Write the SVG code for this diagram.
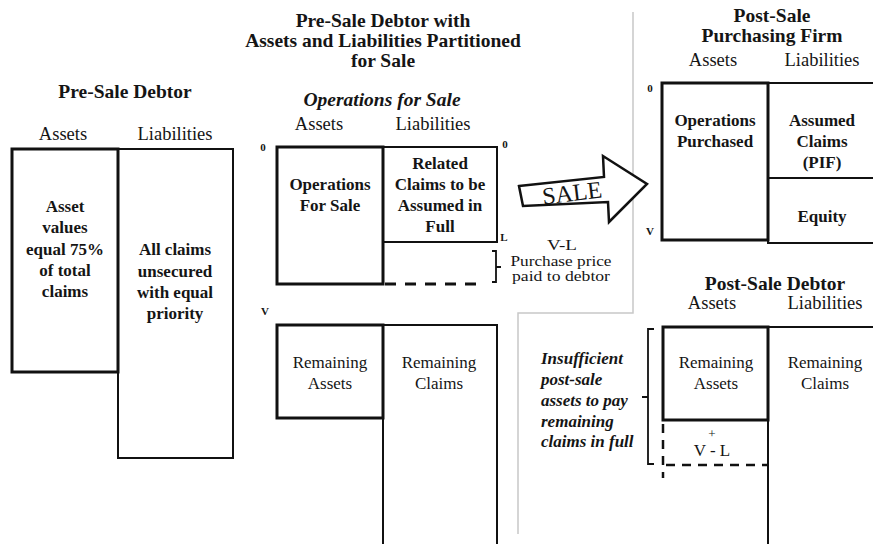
<svg xmlns="http://www.w3.org/2000/svg" width="873" height="544" viewBox="0 0 873 544">
<style>
text{font-family:"Liberation Serif","Times New Roman",serif;fill:#151515}
.t{font-weight:bold;font-size:19.5px;text-anchor:middle}
.h{font-size:18.5px;text-anchor:middle}
.b{font-weight:bold;font-size:17px;text-anchor:middle}
.r{font-size:17px;text-anchor:middle}
.p{font-size:14px;text-anchor:middle}
.bi{font-weight:bold;font-style:italic;font-size:17px}
.s{font-size:11px;font-weight:bold;text-anchor:middle}
.thick{fill:none;stroke:#111;stroke-width:3}
.thin{fill:none;stroke:#111;stroke-width:2}
.dash{fill:none;stroke:#111;stroke-width:3;stroke-dasharray:11 9}
.dash2{fill:none;stroke:#111;stroke-width:2.5;stroke-dasharray:9 7}
.grey{fill:none;stroke:#c8c8c8;stroke-width:1.5}
.line{fill:none;stroke:#111;stroke-width:1.8}
</style>
<rect width="873" height="544" fill="#fff"/>

<g id="dividers">
<polyline class="grey" points="633,12 633,313 518,313 518,534"/>
</g>

<g id="pre-sale-debtor">
<text class="t" x="125" y="98">Pre-Sale Debtor</text>
<text class="h" x="63" y="140">Assets</text>
<text class="h" x="175" y="140">Liabilities</text>
<rect class="thin" x="118" y="149" width="115" height="309"/>
<rect class="thick" x="12" y="149" width="106" height="223"/>
<text class="b" x="65" y="212">Asset</text>
<text class="b" x="65" y="233">values</text>
<text class="b" x="65" y="255">equal 75%</text>
<text class="b" x="65" y="276">of total</text>
<text class="b" x="65" y="297">claims</text>
<text class="b" x="175" y="255">All claims</text>
<text class="b" x="175" y="277">unsecured</text>
<text class="b" x="175" y="298">with equal</text>
<text class="b" x="175" y="319">priority</text>
</g>

<g id="partitioned-title">
<text class="t" x="383" y="27">Pre-Sale Debtor with</text>
<text class="t" x="383" y="47">Assets and Liabilities Partitioned</text>
<text class="t" x="383" y="67">for Sale</text>
</g>

<g id="operations-for-sale">
<text class="t" x="382" y="106" font-style="italic">Operations for Sale</text>
<text class="h" x="319" y="130">Assets</text>
<text class="h" x="433" y="130">Liabilities</text>
<text class="s" x="263" y="151">0</text>
<text class="s" x="505" y="148">0</text>
<text class="s" x="504" y="241">L</text>
<rect class="thin" x="383" y="147" width="114" height="95"/>
<rect class="thick" x="277" y="147" width="106" height="137"/>
<line class="dash" x1="385" y1="284" x2="478" y2="284"/>
<text class="b" x="330" y="190">Operations</text>
<text class="b" x="330" y="211">For Sale</text>
<text class="b" x="440" y="169">Related</text>
<text class="b" x="440" y="190">Claims to be</text>
<text class="b" x="440" y="211">Assumed in</text>
<text class="b" x="440" y="232">Full</text>
</g>

<g id="purchase-price">
<path class="line" d="M492,251 H496 V282 H492 M496,267 H501"/>
<text class="p" x="562" y="250" textLength="30" lengthAdjust="spacingAndGlyphs">V-L</text>
<text class="p" x="561" y="265.5" textLength="101" lengthAdjust="spacingAndGlyphs">Purchase price</text>
<text class="p" x="561" y="281" textLength="98" lengthAdjust="spacingAndGlyphs">paid to debtor</text>
</g>

<g id="remaining-pre">
<text class="s" x="265" y="315" font-size="13">V</text>
<rect class="thin" x="383" y="325" width="114" height="240"/>
<rect class="thick" x="277" y="325" width="106" height="93"/>
<text class="r" x="330" y="368">Remaining</text>
<text class="r" x="330" y="389">Assets</text>
<text class="r" x="439" y="368">Remaining</text>
<text class="r" x="439" y="389">Claims</text>
</g>

<g id="connectors">
<polygon points="519,186 604,177 603,156 647,184 609,222 608,202 523,206" fill="#fff" stroke="#111" stroke-width="2.5" stroke-linejoin="miter"/>
<text x="572" y="201" font-size="24" text-anchor="middle" transform="rotate(-7 572 193)">SALE</text>
</g>

<g id="post-sale-purchasing-firm">
<text class="t" x="772" y="22">Post-Sale</text>
<text class="t" x="772" y="42">Purchasing Firm</text>
<text class="h" x="713" y="66">Assets</text>
<text class="h" x="822" y="66">Liabilities</text>
<text class="s" x="650" y="92">0</text>
<text class="s" x="650" y="235">V</text>
<rect class="thin" x="768" y="83" width="120" height="160"/>
<line class="thin" x1="768" y1="178" x2="873" y2="178"/>
<rect class="thick" x="662" y="83" width="106" height="157"/>
<text class="b" x="715" y="126">Operations</text>
<text class="b" x="715" y="147">Purchased</text>
<text class="b" x="822" y="126">Assumed</text>
<text class="b" x="822" y="147">Claims</text>
<text class="b" x="822" y="168">(PIF)</text>
<text class="b" x="822" y="222">Equity</text>
</g>

<g id="post-sale-debtor">
<text class="t" x="775" y="290">Post-Sale Debtor</text>
<text class="h" x="712" y="309">Assets</text>
<text class="h" x="825" y="309">Liabilities</text>
<rect class="thin" x="768" y="327" width="120" height="240"/>
<rect class="thick" x="663" y="327" width="105" height="93"/>
<line class="dash2" x1="663" y1="424" x2="663" y2="478"/>
<line class="dash2" x1="666" y1="465" x2="768" y2="465"/>
<text class="r" x="716" y="368">Remaining</text>
<text class="r" x="716" y="389">Assets</text>
<text class="r" x="825" y="368">Remaining</text>
<text class="r" x="825" y="389">Claims</text>
<text x="712" y="438" font-size="13" text-anchor="middle">+</text>
<text class="r" x="712" y="456">V - L</text>
</g>

<g id="insufficient">
<path class="line" d="M654,329 H648 V464 H654 M648,397 H642" stroke-width="2.2"/>
<text class="bi" x="541" y="364">Insufficient</text>
<text class="bi" x="541" y="385">post-sale</text>
<text class="bi" x="541" y="406">assets to pay</text>
<text class="bi" x="541" y="427">remaining</text>
<text class="bi" x="541" y="447">claims in full</text>
</g>
</svg>
